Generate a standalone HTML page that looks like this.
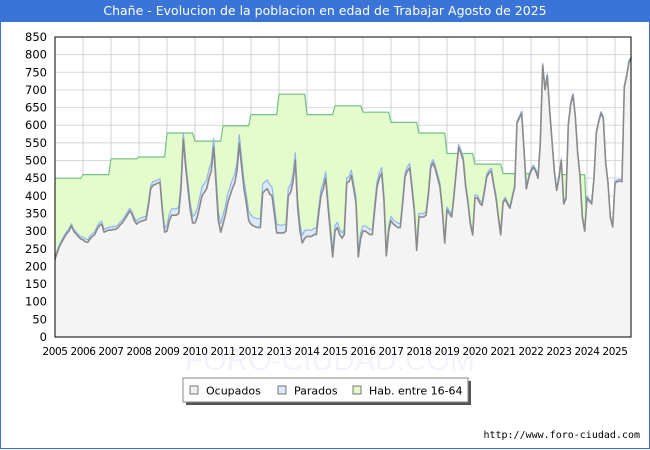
<!DOCTYPE html>
<html><head><meta charset="utf-8"><style>
body{margin:0;width:650px;height:450px;background:#fff;font-family:"Liberation Sans","DejaVu Sans",sans-serif;overflow:hidden;position:relative}
#title{position:absolute;left:0;top:0;width:650px;height:22px;background:#3a74d6;color:#fff;font-family:"DejaVu Sans",sans-serif;font-size:12.5px;line-height:22px;text-align:center}
#frame{position:absolute;left:0;top:22px;width:648px;height:426px;border:1px solid #3a74d6;border-top:none}
svg{position:absolute;left:0;top:0}
</style></head><body>
<div id="title">Chañe - Evolucion de la poblacion en edad de Trabajar Agosto de 2025</div>
<div id="frame"></div>
<svg id="chart" width="650" height="450"></svg>
<script>
const years=[2005,2006,2007,2008,2009,2010,2011,2012,2013,2014,2015,2016,2017,2018,2019,2020,2021,2022,2023,2024,2025];
const yTicks=[0,50,100,150,200,250,300,350,400,450,500,550,600,650,700,750,800,850];
const habByYear=[450,460,505,510,578,555,598,630,688,630,655,637,608,578,520,490,463,410,460,300,300];
const ocupados=[
220,240,258,270,282,293,300,315,300,292,285,278,
275,270,268,278,285,290,305,315,320,297,300,303,
303,305,305,310,318,325,335,345,357,348,330,320,
325,328,330,332,370,420,430,432,436,438,360,297,
300,330,345,345,345,350,420,561,480,419,360,323,
323,340,370,400,410,420,450,470,538,436,330,297,
320,345,380,400,420,436,470,548,480,420,380,330,
320,315,312,310,310,408,415,420,405,400,350,295,
295,295,295,300,400,410,440,500,366,300,266,280,
285,285,285,290,290,350,400,420,450,370,300,227,
300,310,290,280,290,436,440,458,420,380,227,280,
300,300,295,290,290,360,425,450,465,385,230,300,
330,320,315,310,310,380,453,470,479,420,357,245,
340,340,340,345,400,480,493,476,450,425,360,266,
360,350,340,400,470,538,520,500,425,380,320,289,
394,394,380,373,410,453,465,470,430,394,340,289,
380,390,375,365,395,425,606,620,634,530,420,450,
470,481,470,450,550,770,700,740,640,555,470,415,
450,500,377,392,600,660,685,625,520,456,340,300,
394,385,377,450,578,610,634,620,493,436,340,312,
436,440,442,440,708,740,779,790];
const paradosByYear=[6,8,8,10,18,25,25,25,22,18,15,15,12,10,8,8,6,6,5,5,5];

const NS='http://www.w3.org/2000/svg';
const svg=document.getElementById('chart');
const X0=55,X1=631,Y0=337,Y1=37;
const xOf=i=>X0+i*28/12;
const xYear=y=>X0+(y-2005)*28;
const yOf=v=>Y0-v*(Y0-Y1)/850;
function mk(tag,attrs){const e=document.createElementNS(NS,tag);for(const k in attrs)e.setAttribute(k,attrs[k]);svg.appendChild(e);return e;}

const wm=mk('text',{x:330,y:370,'text-anchor':'middle','font-size':30,fill:'#f3f4fb','font-family':'Liberation Sans, sans-serif'});
wm.textContent='FORO-CIUDAD.COM';



yTicks.forEach(t=>{
  const l=mk('line',{x1:X0,x2:X1,y1:yOf(t),y2:yOf(t),stroke:'#d8d8d8','stroke-width':1});
  
  
  const tx=mk('text',{x:47,y:yOf(t)+4,'text-anchor':'end','font-size':11.5,fill:'#000','font-family':'DejaVu Sans, sans-serif'});
  tx.textContent=t;
  
  
});
years.forEach(y=>{
  const l=mk('line',{x1:xYear(y),x2:xYear(y),y1:Y1,y2:Y0,stroke:'#d0d0d0','stroke-width':1});
  
  
  const tx=mk('text',{x:xYear(y),y:355,'text-anchor':'middle','font-size':10.5,fill:'#000','font-family':'DejaVu Sans, sans-serif','letter-spacing':'-0.4'});
  tx.textContent=y;
  
  
});

const n=ocupados.length;
const hab=[],tot=[];
for(let i=0;i<n;i++){const yi=Math.floor(i/12);hab.push(habByYear[yi]);tot.push(ocupados[i]+paradosByYear[yi]);}
function pts(arr){return arr.map((v,i)=>xOf(i).toFixed(1)+','+yOf(v).toFixed(1)).join(' ');}
function area(arr,fill,stroke,sw,name){
  const a=mk('polygon',{points:X0+','+Y0+' '+pts(arr)+' '+xOf(n-1).toFixed(1)+','+Y0,fill:fill,stroke:'none'});
  
  
  const l=mk('polyline',{points:pts(arr),fill:'none',stroke:stroke,'stroke-width':sw,'stroke-linejoin':'round'});
  
  
}
area(hab,'#e4fbcb','#72c08a',1.2,'hab-16-64');
area(tot,'#dcebfb','#90b4ec',1.2,'parados');
area(ocupados,'#f4f4f4','#8a8a8a',1.6,'ocupados');

const fr=mk('rect',{x:X0,y:Y1,width:X1-X0,height:Y0-Y1,fill:'none',stroke:'#000','stroke-width':1});



const sh=mk('rect',{x:186,y:381,width:285,height:24,fill:'#555'});


const lb=mk('rect',{x:183,y:378,width:285,height:24,fill:'#fff',stroke:'#888','stroke-width':1});


const leg=[['Ocupados','#f0f0f0',190],['Parados','#dcebfb',278],['Hab. entre 16-64','#e4fbcb',353]];
leg.forEach(([t,c,x])=>{
  const r=mk('rect',{x:x,y:386,width:8,height:8,fill:c,stroke:'#777','stroke-width':1});
  
  
  const tx=mk('text',{x:x+16,y:394.5,'font-size':11,fill:'#000','font-family':'DejaVu Sans, sans-serif'});
  tx.textContent=t;
  
  
});
const src=mk('text',{x:640,y:438,'text-anchor':'end','font-size':10,fill:'#000','font-family':'DejaVu Sans Mono, monospace'});
src.textContent='http://www.foro-ciudad.com';


</script>
</body></html>
